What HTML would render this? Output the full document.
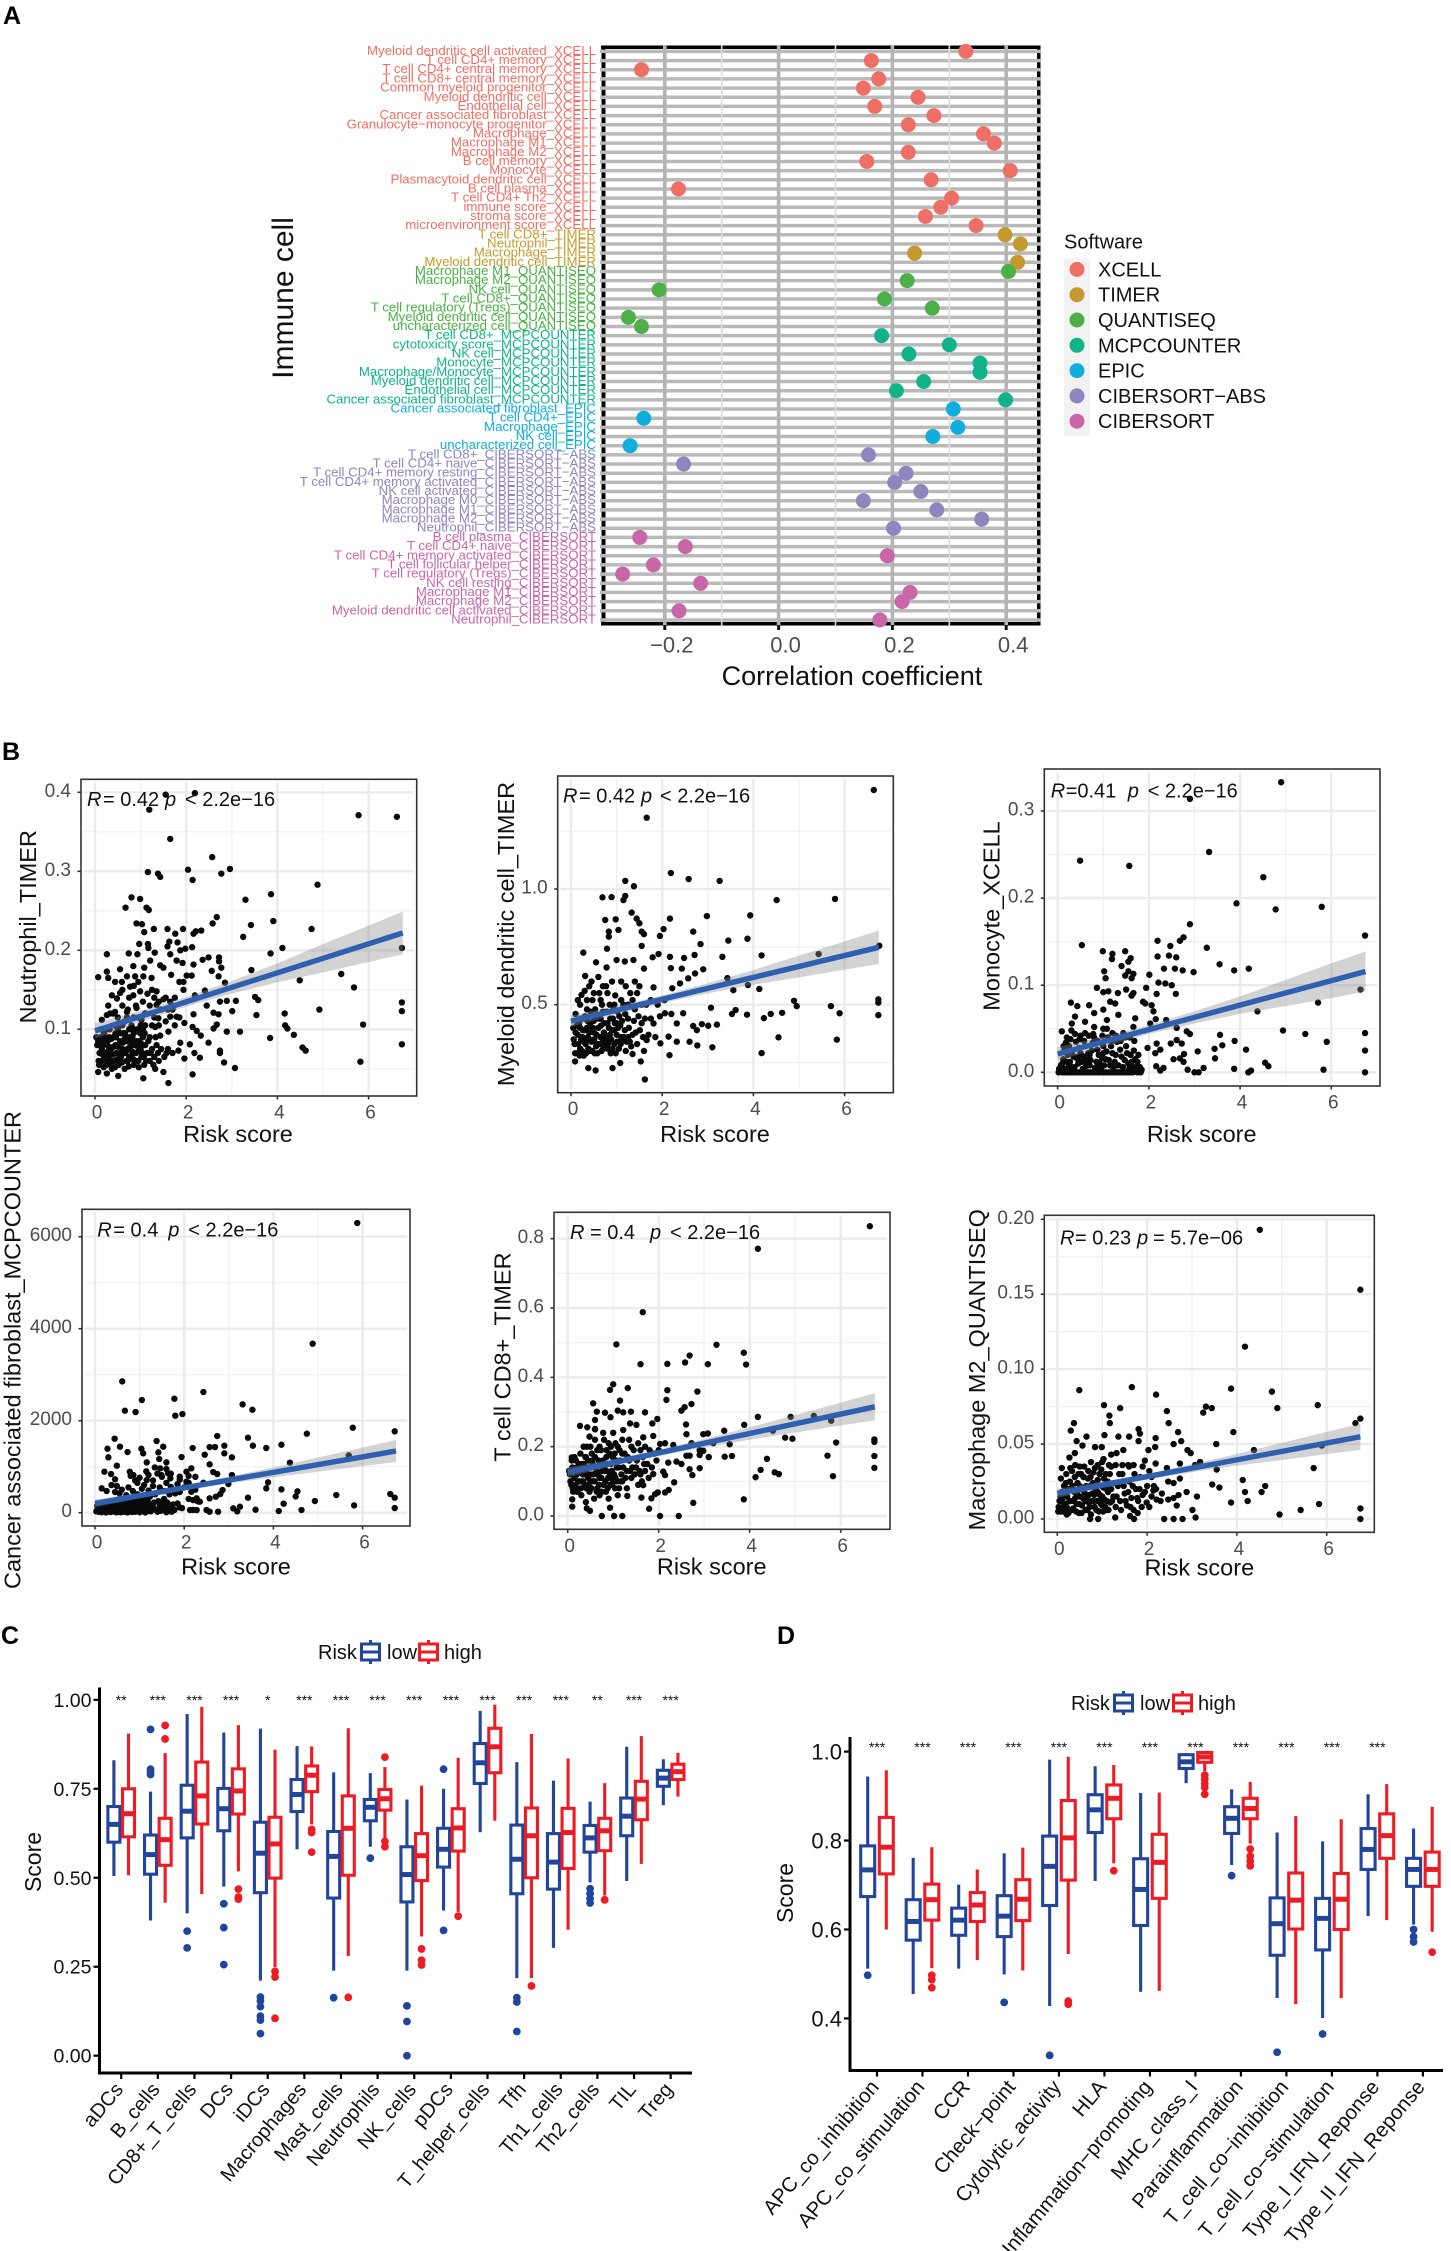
<!DOCTYPE html>
<html lang="en">
<head>
<meta charset="utf-8">
<title>Immune correlation figure</title>
<style>
html,body{margin:0;padding:0;background:#fff}
svg{display:block;font-family:"Liberation Sans",Arial,sans-serif}
</style>
</head>
<body>
<svg id="figure" xmlns="http://www.w3.org/2000/svg" width="1451" height="2251" viewBox="0 0 1451 2251">
<rect x="0" y="0" width="1451" height="2251" fill="#fff"/>
<text x="3" y="24" font-size="25" font-weight="bold">A</text>
<text x="2" y="760" font-size="25" font-weight="bold">B</text>
<text x="1" y="1644" font-size="25" font-weight="bold">C</text>
<text x="777" y="1644" font-size="25" font-weight="bold">D</text>
<g id="panelA"></g>
<g id="panelB"></g>
<g id="panelC"></g>
<g id="panelD"></g>
</svg>
<script>
/* ---------- Panel A data ---------- */
const softwareNames = ["XCELL","TIMER","QUANTISEQ","MCPCOUNTER","EPIC","CIBERSORT-ABS","CIBERSORT"];
const softwareColors = ["#EE6F66","#C49A2E","#4CAF47","#12B388","#10AEDD","#9085BE","#C966A8"];
const cellLabels = [
"Myeloid dendritic cell activated_XCELL","T cell CD4+ memory_XCELL","T cell CD4+ central memory_XCELL","T cell CD8+ central memory_XCELL","Common myeloid progenitor_XCELL","Myeloid dendritic cell_XCELL","Endothelial cell_XCELL","Cancer associated fibroblast_XCELL","Granulocyte−monocyte progenitor_XCELL","Macrophage_XCELL","Macrophage M1_XCELL","Macrophage M2_XCELL","B cell memory_XCELL","Monocyte_XCELL","Plasmacytoid dendritic cell_XCELL","B cell plasma_XCELL","T cell CD4+ Th2_XCELL","immune score_XCELL","stroma score_XCELL","microenvironment score_XCELL",
"T cell CD8+_TIMER","Neutrophil_TIMER","Macrophage_TIMER","Myeloid dendritic cell_TIMER",
"Macrophage M1_QUANTISEQ","Macrophage M2_QUANTISEQ","NK cell_QUANTISEQ","T cell CD8+_QUANTISEQ","T cell regulatory (Tregs)_QUANTISEQ","Myeloid dendritic cell_QUANTISEQ","uncharacterized cell_QUANTISEQ",
"T cell CD8+_MCPCOUNTER","cytotoxicity score_MCPCOUNTER","NK cell_MCPCOUNTER","Monocyte_MCPCOUNTER","Macrophage/Monocyte_MCPCOUNTER","Myeloid dendritic cell_MCPCOUNTER","Endothelial cell_MCPCOUNTER","Cancer associated fibroblast_MCPCOUNTER",
"Cancer associated fibroblast_EPIC","T cell CD4+_EPIC","Macrophage_EPIC","NK cell_EPIC","uncharacterized cell_EPIC",
"T cell CD8+_CIBERSORT−ABS","T cell CD4+ naive_CIBERSORT−ABS","T cell CD4+ memory resting_CIBERSORT−ABS","T cell CD4+ memory activated_CIBERSORT−ABS","NK cell activated_CIBERSORT−ABS","Macrophage M0_CIBERSORT−ABS","Macrophage M1_CIBERSORT−ABS","Macrophage M2_CIBERSORT−ABS","Neutrophil_CIBERSORT−ABS",
"B cell plasma_CIBERSORT","T cell CD4+ naive_CIBERSORT","T cell CD4+ memory activated_CIBERSORT","T cell follicular helper_CIBERSORT","T cell regulatory (Tregs)_CIBERSORT","NK cell resting_CIBERSORT","Macrophage M1_CIBERSORT","Macrophage M2_CIBERSORT","Myeloid dendritic cell activated_CIBERSORT","Neutrophil_CIBERSORT"];
const cellSoftwareCounts = [20,4,7,8,5,9,10];
const correlationValues = [.329,.163,-.241,.176,.149,.245,.169,.273,.228,.360,.379,.228,.155,.407,.268,-.176,.304,.285,.258,.347,
.398,.425,.239,.420,
.404,.226,-.210,.186,.270,-.264,-.241,
.181,.300,.229,.354,.354,.255,.207,.399,
.307,-.237,.315,.271,-.261,
.158,-.167,.224,.204,.250,.149,.278,.357,.202,
-.244,-.164,.191,-.220,-.274,-.137,.231,.217,-.175,.178];
const correlationTicks = [-0.2,0,0.2,0.4];
const correlationTickLabels = ["−0.2","0.0","0.2","0.4"];
const correlationMinorTicks = [-0.1,0.1,0.3];

/* ---------- Panel B data ---------- */
const bandRisk = [0,1,2,3,4,5,6,6.75];

const neutrophilTicks = [.1,.2,.3,.4];
const neutrophilFit = [.098,.222];
const neutrophilBand = [.01,.007,.006,.008,.012,.018,.023,.027];
const neutrophilSparse = [[2.19,.399],[1.55,.397],[1.19,.378],[5.78,.371],[6.62,.369],[1.65,.341],[2.57,.318],[2.96,.303],[2.04,.302],[1.16,.299],[2.77,.297],[1.38,.297],[1.43,.293],[2.14,.289],[4.88,.283],[3.86,.271],[.8,.267],[.99,.265],[3.3,.264],[.67,.254],[1.13,.254],[1.18,.251],[2.67,.242],[3.91,.237],[3.42,.232],[.91,.234],[1.03,.233],[2.58,.234],[4.75,.227],[1.29,.227],[1.59,.227],[1.93,.227],[2.33,.225],[2.21,.224],[1.08,.223],[1.76,.221],[2.16,.221],[3.25,.217],[1.81,.21],[1.63,.211],[.97,.208],[1.16,.208],[1.59,.205],[6.73,.203],[4.11,.203],[2.13,.204],[1.98,.202],[1.87,.2],[1.17,.203],[3.85,.196],[.26,.195],[.74,.196],[.93,.195],[1.31,.197],[1.65,.195],[1.21,.187],[1.79,.187],[1.92,.184],[2.36,.188],[2.49,.191],[2.72,.191],[2.72,.186],[2.77,.178],[2.16,.182],[3.43,.175],[2.56,.174],[1.08,.178],[1.43,.181],[1.5,.178],[.84,.18],[.55,.176],[.26,.173],[.07,.166],[.29,.165],[2.71,.167],[2.01,.168],[2.12,.168],[1.67,.169],[5.4,.17],[4.49,.162],[5.68,.153],[2.85,.159],[1.85,.16],[1.94,.16],[1.24,.165],[.44,.16],[.59,.16],[.7,.167],[.88,.167],[1.06,.167],[.77,.154],[.95,.16],[1.94,.15],[2.41,.149],[1.35,.148],[.99,.148],[.84,.143],[.37,.143],[.55,.146],[.48,.139],[3.51,.141],[3.58,.137],[6.73,.134],[3.09,.136],[2.19,.143],[2.89,.136],[2.74,.135],[1.5,.138],[1.35,.131],[.29,.13],[.44,.122],[.7,.122],[.91,.127],[2.45,.13],[4.92,.125],[6.73,.123],[3.01,.123],[2.16,.119],[2.6,.121],[2.71,.119],[3.54,.118],[4.16,.12],[.26,.118],[1.65,.116],[1.79,.116],[1.39,.114],[1.02,.112],[.15,.112],[5.88,.106],[2.67,.106],[4.17,.105],[4.22,.101],[1.96,.108],[2.14,.103],[1.32,.103],[2.6,.101],[2.89,.097],[3.18,.097],[1.61,.097],[2.23,.098],[4.36,.093],[2.32,.092],[1.43,.092],[3.84,.089],[2.49,.083],[1.87,.083],[2.08,.081],[6.73,.081],[4.55,.077],[4.62,.073],[2.74,.073],[2.74,.07],[1.83,.073],[1.57,.07],[2.18,.07],[2.3,.064],[1.96,.063],[2.83,.058],[5.82,.059],[3.07,.051],[2.14,.043],[1.5,.046],[1.61,.032],[1.32,.05],[1.06,.038],[.51,.041],[.07,.046],[.26,.044]];
const neutrophilDense = [[.05,.08],[.1,.07],[.12,.09],[.15,.06],[.18,.08],[.2,.095],[.22,.07],[.25,.055],[.28,.085],[.3,.065],[.32,.1],[.35,.075],[.37,.05],[.4,.09],[.42,.06],[.45,.08],[.47,.07],[.5,.1],[.52,.055],[.55,.085],[.57,.065],[.6,.075],[.62,.095],[.65,.05],[.67,.07],[.7,.085],[.72,.06],[.75,.1],[.77,.078],[.8,.065],[.82,.09],[.85,.055],[.87,.08],[.9,.07],[.92,.1],[.95,.06],[.97,.085],[1,.075],[1.02,.065],[1.05,.09],[1.08,.055],[1.1,.08],[1.15,.07],[1.2,.06],[1.25,.075],[1.3,.065],[1.35,.08],[1.4,.06],[.13,.1],[.25,.1],[.43,.105],[.6,.105],[.8,.105],[.95,.115],[.33,.12],[.5,.115],[.7,.115],[.15,.075],[.35,.06],[.55,.07],[.75,.065],[.95,.072],[.65,.088],[.45,.095],[.2,.065],[.08,.06],[.3,.078],[.85,.095],[1.05,.1],[1.2,.09],[1.1,.12],[1.2,.13],[1.3,.115],[1.45,.125],[1.55,.11],[1.7,.125],[1.85,.115],[1,.105],[1.25,.105],[1.4,.105],[1.6,.125],[1.75,.105]];
const neutrophilExtra = [[.03,.09],[.07,.085],[.09,.055],[.14,.085],[.17,.068],[.19,.052],[.23,.088],[.27,.062],[.29,.072],[.31,.09],[.34,.056],[.36,.088],[.39,.068],[.41,.078],[.44,.052],[.46,.09],[.49,.062],[.51,.078],[.54,.06],[.56,.095],[.59,.058],[.61,.083],[.63,.07],[.66,.095],[.69,.06],[.71,.075],[.74,.053],[.76,.09],[.79,.085],[.81,.072],[.84,.062],[.86,.1],[.89,.06],[.91,.085],[.94,.078],[.96,.052],[.99,.095],[1.01,.082],[1.04,.07],[1.07,.065],[1.09,.095],[1.12,.06],[1.17,.085],[1.22,.07],[1.28,.055],[1.33,.09],[1.38,.07],[1.45,.075],[1.52,.065],[1.6,.075],[1.7,.07],[.55,.105],[.65,.11],[.72,.125],[.85,.115],[.4,.12],[.6,.13],[.9,.13],[1.1,.105],[1.15,.145],[1.25,.15],[1.4,.135],[1.55,.14],[1.65,.135],[1.75,.14],[1.3,.14],[1.05,.135],[.75,.14],[.6,.15],[.85,.155]];

const dendriticTicks = [.5,1];
const dendriticFit = [.429,.748];
const dendriticBand = [.025,.018,.016,.022,.032,.047,.061,.072];
const dendriticSparse = [[6.64,1.428],[1.66,1.308],[2.19,1.069],[2.58,1.043],[3.26,1.035],[1.19,1.035],[1.38,1.012],[4.51,.952],[5.79,.957],[.69,.964],[.89,.965],[1.19,.97],[1.15,.952],[1.33,.898],[2.98,.883],[3.93,.886],[2.17,.872],[1.44,.872],[.98,.869],[.75,.866],[1.5,.852],[2.03,.827],[1.04,.823],[.83,.816],[2.68,.816],[1.55,.816],[1.6,.805],[1.95,.797],[.83,.794],[3.87,.785],[3.45,.777],[1.55,.754],[2.84,.762],[6.76,.755],[.79,.742],[.27,.725],[5.43,.719],[4.18,.713],[2.71,.715],[3.32,.707],[2.17,.707],[2.48,.702],[1.92,.719],[1.79,.705],[1,.693],[1.18,.687],[1.37,.693],[.55,.683],[1.6,.656],[2.19,.658],[2.43,.656],[2.9,.653],[.78,.661],[2.72,.635],[2.57,.614],[3.43,.615],[2.39,.592],[.31,.624],[3.88,.585],[3.56,.563],[4.13,.568],[2.22,.571],[1.81,.575],[.23,.542],[4.89,.517],[6.74,.523],[6.74,.509],[4.95,.494],[5.7,.494],[3.07,.487],[4.63,.465],[4.38,.46],[4.23,.442],[3.61,.477],[3.53,.46],[3.86,.457],[5.89,.463],[6.74,.455],[3.2,.414],[3.01,.409],[2.68,.408],[2.87,.416],[2.76,.39],[4.55,.359],[5.83,.349],[3.1,.316],[2.6,.34],[2.77,.324],[2.32,.34],[2.14,.362],[1.96,.333],[4.18,.291],[2.16,.282],[1.53,.255],[1.08,.248],[.91,.226],[.54,.216],[.38,.226],[1.62,.177],[.09,.255],[1.35,.287],[2.32,.419],[2.46,.463],[2.06,.463],[1.81,.419],[1.51,.39],[1.66,.347],[1.29,.34]];
const dendriticDense = [[.05,.4],[.08,.33],[.1,.46],[.12,.29],[.15,.37],[.18,.42],[.2,.31],[.22,.35],[.25,.44],[.28,.28],[.3,.39],[.32,.33],[.35,.48],[.37,.36],[.4,.3],[.42,.42],[.45,.34],[.47,.52],[.5,.38],[.52,.29],[.55,.45],[.57,.33],[.6,.4],[.62,.55],[.65,.36],[.67,.3],[.7,.47],[.72,.38],[.75,.33],[.77,.58],[.8,.42],[.82,.35],[.85,.5],[.87,.29],[.9,.39],[.92,.44],[.95,.33],[.97,.54],[1,.37],[1.02,.47],[1.05,.31],[1.08,.41],[1.1,.6],[1.13,.35],[1.15,.5],[1.18,.39],[1.2,.3],[1.25,.44],[1.3,.55],[1.35,.37],[1.4,.48],[1.45,.33],[1.5,.58],[1.55,.42],[1.6,.3],[1.65,.5],[1.7,.37],[1.75,.44],[1.85,.36],[1.95,.45],[2.05,.52],[2.2,.46],[.15,.52],[.3,.56],[.45,.6],[.6,.62],[.25,.36],[.4,.38],[.55,.32],[.7,.34],[.85,.37],[1,.42],[.5,.43],[.65,.44],[.8,.31],[.95,.39],[1.1,.36],[.35,.4],[.2,.4],[.1,.38],[1.25,.36]];
const dendriticExtra = [[.06,.35],[.09,.29],[.13,.41],[.16,.33],[.19,.28],[.21,.44],[.24,.3],[.26,.39],[.29,.34],[.31,.45],[.33,.29],[.36,.43],[.38,.31],[.41,.35],[.43,.47],[.46,.3],[.48,.4],[.51,.35],[.53,.48],[.56,.37],[.58,.29],[.61,.44],[.63,.33],[.66,.41],[.68,.5],[.71,.31],[.73,.42],[.76,.36],[.78,.47],[.81,.33],[.83,.4],[.86,.44],[.88,.35],[.91,.31],[.93,.48],[.96,.42],[.98,.29],[1.01,.34],[1.03,.4],[1.06,.45],[1.09,.33],[1.12,.43],[1.16,.36],[1.19,.46],[1.22,.34],[1.27,.4],[1.32,.32],[1.38,.43],[1.42,.38],[1.48,.45],[1.58,.36],[1.62,.44],[.2,.5],[.35,.52],[.5,.55],[.65,.52],[.8,.55],[.95,.5],[1.1,.52],[1.25,.5],[1.35,.52],[1.45,.55],[.4,.58],[.7,.58],[.9,.6],[1.2,.58],[1.4,.6],[1.55,.5],[1.75,.52],[1.9,.5]];

const monocyteTicks = [0,.1,.2,.3];
const monocyteFit = [.021,.1157];
const monocyteBand = [.008,.006,.005,.007,.01,.015,.02,.023];
const monocyteSparse = [[4.9,.333],[2.9,.314],[3.32,.253],[.49,.243],[1.57,.237],[4.51,.224],[3.92,.194],[5.79,.19],[4.78,.187],[2.9,.17],[6.74,.157],[2.76,.155],[2.68,.151],[2.19,.151],[2.47,.145],[.53,.146],[3.27,.143],[.99,.139],[1.48,.139],[1.2,.136],[1.19,.13],[2.44,.134],[2.19,.133],[2.6,.132],[1.6,.131],[1.55,.127],[3.55,.124],[1.4,.122],[2.33,.119],[2.57,.119],[2.74,.117],[2.98,.115],[3.87,.117],[4.19,.119],[1.02,.116],[1.55,.116],[1.66,.113],[1.48,.111],[1.05,.108],[1.62,.108],[2.01,.112],[2.21,.103],[2.36,.102],[2.5,.1],[.86,.097],[1.94,.097],[6.64,.095],[1.5,.095],[1,.092],[1.11,.093],[1.32,.091],[1.66,.091],[1.62,.088],[2.17,.09],[2.59,.09],[.29,.08],[1.87,.081],[1.92,.079],[2.06,.077],[.69,.077],[.43,.076],[5.71,.08],[1.15,.081],[1.26,.079],[1,.072],[2.1,.07],[4.38,.07],[.8,.068],[1.33,.066],[.38,.064],[.6,.058],[1.7,.062],[2.15,.061],[2.38,.06],[1.08,.06],[.31,.056],[2.03,.056],[2.61,.051],[2.83,.047],[2.9,.044],[4.94,.048],[5.43,.044],[6.74,.045],[3.56,.043],[.09,.047],[1.66,.052],[1.44,.045],[3.88,.036],[5.9,.035],[2.61,.037],[3.61,.031],[2.48,.033],[2.72,.033],[2.17,.033],[1.97,.028],[3.44,.027],[4.13,.026],[6.74,.025],[3.07,.024],[2.25,.026],[2.14,.022],[2.77,.021],[3.45,.016],[2.54,.015],[2.68,.016],[2.76,.012],[4.55,.011],[4.62,.007],[2.16,.007],[2.32,.005],[2.85,.003],[3.2,.005],[3.87,.004],[2.25,.002],[5.83,.003],[4.24,.002],[4.18,0],[3,0],[3.09,0],[6.74,0]];
const monocyteDense = [[.02,0],[.1,0],[.15,0],[.2,0],[.25,0],[.3,0],[.35,0],[.4,0],[.45,0],[.5,0],[.55,0],[.6,0],[.65,0],[.7,0],[.75,0],[.8,0],[.85,0],[.9,0],[.95,0],[1,0],[1.05,0],[1.1,0],[1.15,0],[1.2,0],[1.25,0],[1.45,0],[1.5,0],[1.55,0],[1.6,0],[1.65,0],[1.75,0],[1.82,0],[.1,.01],[.15,.025],[.2,.012],[.25,.03],[.3,.006],[.35,.018],[.4,.035],[.45,.01],[.5,.022],[.55,.004],[.6,.03],[.65,.014],[.7,.008],[.75,.025],[.8,.04],[.85,.012],[.9,.02],[.95,.005],[1,.03],[1.05,.015],[1.1,.04],[1.15,.008],[1.2,.022],[1.25,.012],[1.3,.035],[1.4,.018],[1.5,.03],[1.55,.01],[1.6,.02],[1.65,.006],[1.7,.015],[1.75,.012],[1.8,.006],[.2,.04],[.3,.048],[.5,.042],[.6,.045],[.8,.052],[1,.05],[1.2,.045]];
const monocyteExtra = [[.03,.004],[.07,.008],[.12,.015],[.17,.004],[.22,.02],[.27,.012],[.32,.024],[.37,.006],[.42,.016],[.47,.028],[.52,.012],[.57,.018],[.62,.007],[.67,.022],[.72,.014],[.77,.034],[.82,.005],[.87,.026],[.92,.01],[.97,.016],[1.02,.008],[1.07,.024],[1.12,.014],[1.17,.03],[1.22,.005],[1.27,.02],[1.33,.008],[1.37,.026],[1.43,.006],[1.47,.014],[1.52,.022],[1.57,.004],[1.62,.012],[1.67,.025],[1.72,.006],[1.77,.02],[1.84,.003],[.13,.03],[.18,.034],[.28,.038],[.38,.044],[.48,.038],[.58,.036],[.68,.042],[.78,.044],[.88,.036],[.98,.042],[1.08,.05],[1.18,.036],[1.28,.042],[1.38,.036],[1.48,.04],[1.58,.04],[1.68,.036],[.3,0],[.6,.012],[.9,.008],[1.3,0],[1.35,0],[1.4,0],[.45,.018],[.7,.02],[1,.022],[.25,.008]];

const fibroblastTicks = [0,2000,4000,6000];
const fibroblastFit = [203,1341];
const fibroblastBand = [84,60,53,72,108,155,203,239];
const fibroblastSparse = [[5.88,6297],[4.88,3674],[.61,2855],[2.43,2623],[1.05,2449],[1.78,2478],[3.31,2355],[3.53,2239],[.67,2217],[.91,2188],[1.96,2145],[1.8,2109],[5.78,1848],[6.72,1768],[4.75,1717],[.44,1609],[3.43,1630],[2.74,1667],[1.38,1558],[4.18,1478],[3.54,1456],[3.84,1406],[2.9,1456],[2.57,1427],[2.69,1427],[2.19,1406],[1.53,1435],[1.04,1391],[.56,1435],[.28,1391],[.73,1319],[1.42,1312],[1.08,1290],[2.9,1290],[2.46,1261],[5.69,1246],[3.07,1203],[1.94,1210],[.3,1203],[1.44,1167],[1.6,1094],[1.16,1094],[4.37,1087],[2.57,1051],[.49,1022],[1.34,985],[2.16,964],[1.46,964],[.21,891],[.78,891],[2.05,891],[2.65,884],[2.74,840],[1.64,855],[.36,840],[3.07,819],[1.49,819],[.86,819],[1.9,783],[.45,725],[1.69,746],[1.16,710],[3.88,659],[3.84,529],[2.99,623],[2.43,652],[.37,601],[.49,580],[2.05,674],[4.18,507],[4.54,464],[2.86,493],[2.81,406],[2.16,456],[.15,529],[.26,471],[.45,449],[5.41,384],[6.62,406],[4.5,355],[6.72,326],[3.43,326],[2.71,348],[2.57,312],[2.28,312],[4.93,254],[2.2,275],[4.23,196],[2.35,239],[3.25,130],[3.1,94],[5.81,159],[6.72,101],[3.6,65],[4.63,58],[4.12,36],[3.19,29],[2.76,22],[2.5,58],[2.57,22],[2.13,58],[2.28,58],[1.9,116],[1.72,22]];
const fibroblastDense = [[.05,150],[.08,20],[.12,60],[.15,10],[.18,120],[.2,40],[.22,200],[.25,5],[.28,90],[.3,30],[.33,160],[.35,15],[.38,60],[.4,250],[.43,25],[.45,100],[.48,8],[.5,180],[.53,40],[.55,300],[.58,10],[.6,70],[.63,140],[.65,20],[.68,50],[.7,220],[.73,5],[.75,100],[.78,35],[.8,170],[.83,15],[.85,60],[.88,280],[.9,20],[.93,120],[.95,45],[.98,200],[1,10],[1.03,80],[1.05,350],[1.08,30],[1.1,150],[1.13,5],[1.15,60],[1.18,250],[1.25,30],[1.3,120],[1.35,400],[1.4,20],[1.45,150],[1.5,60],[1.55,300],[1.6,10],[1.65,90],[1.7,30],[1.75,180],[1.8,420],[1.45,550],[1.3,700],[1.1,600],[.95,650],[.75,550],[.9,700],[1.6,650],[1.9,450],[2.1,300],[2.3,250],[1.95,100],[2.2,60],[1.2,820],[1.5,780],[1.7,850],[2.1,800],[2.25,780]];
const fibroblastExtra = [[.03,30],[.06,80],[.1,110],[.13,30],[.17,70],[.2,100],[.24,130],[.27,50],[.31,100],[.34,70],[.37,200],[.41,40],[.44,160],[.47,70],[.51,110],[.54,20],[.57,160],[.6,30],[.62,240],[.66,100],[.69,150],[.72,60],[.74,30],[.77,210],[.79,90],[.82,130],[.84,250],[.87,70],[.89,170],[.92,40],[.94,230],[.97,90],[.99,300],[1.02,130],[1.06,200],[1.09,70],[1.12,280],[1.14,120],[1.17,40],[1.2,170],[1.23,350],[1.27,90],[1.32,220],[1.37,60],[1.42,250],[1.47,40],[1.52,200],[1.57,100],[1.62,220],[1.67,400],[1.72,120],[1.78,60],[1.85,200],[1.2,480],[1.05,520],[.85,470],[.7,380],[.55,420],[1.3,580],[1.55,470],[1.7,560],[1.85,620],[2,550],[2.1,650],[2.25,500],[1,760],[.8,800],[1.15,900],[1.4,850],[1.6,950],[1.9,720],[.6,500],[.95,400]];

const cd8Ticks = [0,.2,.4,.6,.8];
const cd8Fit = [.126,.315];
const cd8Band = [.014,.01,.009,.012,.018,.025,.033,.039];
const cd8Sparse = [[6.64,.836],[4.18,.771],[1.65,.588],[1.07,.495],[3.27,.494],[3.87,.471],[2.68,.463],[2.58,.443],[1.6,.438],[2.19,.439],[3.08,.438],[3.92,.437],[1,.38],[.93,.364],[1.32,.369],[2.19,.363],[2.85,.359],[1.15,.333],[2.17,.335],[2.72,.323],[.56,.325],[2.57,.314],[2.5,.304],[.64,.301],[1.7,.299],[.82,.298],[1.1,.304],[1.22,.299],[1.39,.301],[.6,.277],[1.97,.28],[4.18,.286],[4.9,.286],[.94,.285],[5.41,.289],[5.79,.275],[1.86,.267],[.27,.26],[2.6,.264],[3.88,.263],[1.37,.267],[1.51,.263],[.43,.256],[.6,.251],[1.22,.248],[3.44,.246],[4.51,.246],[3.08,.238],[2.98,.236],[.48,.229],[1.88,.231],[2.61,.236],[1.66,.227],[4.78,.226],[4.94,.223],[3.2,.21],[2.72,.21],[3.56,.207],[5.9,.212],[6.74,.221],[6.74,.214],[2.32,.205],[2.14,.21],[2.03,.208],[2.98,.188],[2.9,.176],[3.45,.171],[3.61,.173],[5.71,.174],[6.74,.173],[2.61,.174],[2.68,.174],[3.1,.17],[2.9,.19],[4.38,.165],[2.21,.154],[2.5,.15],[2.39,.157],[6.74,.139],[2.9,.138],[4.24,.133],[2.68,.135],[4.55,.126],[4.64,.121],[2.1,.128],[2.74,.118],[1.88,.121],[4.13,.112],[5.83,.115],[2.14,.118],[2.34,.097],[1.66,.089],[2.22,.075],[2.14,.068],[1.98,.068],[1.92,.063],[1.31,.058],[1.62,.053],[1.84,.051],[2.76,.038],[3.87,.048],[1.79,.021],[.93,.024],[.42,.022],[.49,.015],[.75,0],[1.02,0],[1.2,0],[2.03,0],[2.44,0],[.1,.048],[.1,.027],[.09,.169]];
const cd8Dense = [[.05,.12],[.08,.09],[.1,.14],[.12,.07],[.15,.11],[.18,.16],[.2,.08],[.22,.13],[.25,.1],[.28,.18],[.3,.06],[.33,.12],[.35,.15],[.38,.09],[.4,.04],[.42,.2],[.45,.11],[.48,.07],[.5,.14],[.53,.18],[.55,.1],[.58,.05],[.6,.22],[.63,.13],[.65,.08],[.68,.16],[.7,.11],[.73,.19],[.75,.07],[.78,.24],[.8,.14],[.83,.1],[.85,.17],[.88,.08],[.9,.21],[.93,.12],[.95,.15],[.98,.09],[1,.24],[1.03,.18],[1.05,.11],[1.08,.14],[1.1,.2],[1.13,.08],[1.15,.16],[1.18,.12],[1.2,.1],[1.25,.18],[1.3,.13],[1.35,.16],[1.4,.11],[1.45,.19],[1.5,.14],[1.55,.21],[1.6,.12],[1.65,.17],[1.7,.13],[1.75,.15],[1.8,.19],[1.85,.14],[1.55,.09],[1.3,.08],[1.1,.06],[.9,.05],[.7,.06],[.6,.17],[.5,.1],[.4,.13],[.3,.1],[.2,.12],[.75,.13],[.95,.11],[.85,.13],[.65,.12],[.55,.15],[1,.1],[.45,.16],[.35,.2],[.25,.15],[.15,.17],[.6,.25],[.8,.22],[1.2,.22]];
const cd8Extra = [[.03,.13],[.06,.1],[.09,.16],[.11,.08],[.14,.13],[.17,.09],[.19,.14],[.21,.07],[.23,.1],[.26,.13],[.29,.08],[.32,.15],[.34,.1],[.37,.12],[.39,.17],[.41,.08],[.44,.14],[.46,.09],[.49,.12],[.52,.08],[.54,.16],[.56,.12],[.59,.1],[.62,.14],[.64,.07],[.67,.12],[.69,.09],[.72,.15],[.74,.11],[.77,.16],[.79,.09],[.82,.13],[.84,.07],[.87,.15],[.89,.11],[.92,.18],[.94,.09],[.97,.13],[.99,.17],[1.02,.12],[1.04,.08],[1.07,.16],[1.09,.1],[1.12,.14],[1.14,.19],[1.17,.1],[1.22,.14],[1.27,.11],[1.32,.17],[1.37,.13],[1.42,.14],[1.47,.12],[1.52,.16],[1.58,.13],[1.63,.1],[1.68,.15],[1.78,.11],[.7,.2],[.85,.19],[.95,.2],[1.05,.21],[1.2,.18],[1.4,.2],[.5,.2],[.65,.19],[.3,.14],[.4,.17],[1.35,.22],[1.6,.19],[1.7,.2],[1.9,.18],[2,.19],[1.95,.16]];

const macrophageTicks = [0,.05,.1,.15,.2];
const macrophageFit = [.0171,.0549];
const macrophageBand = [.003,.0022,.0019,.0026,.0039,.0057,.0074,.0087];
const macrophageSparse = [[4.51,.193],[6.75,.153],[4.18,.115],[1.66,.088],[3.87,.087],[4.78,.085],[.49,.086],[2.2,.083],[1.04,.076],[5.8,.076],[1.4,.074],[3.31,.075],[3.44,.074],[4.9,.074],[2.44,.072],[3.25,.071],[1.16,.069],[6.75,.067],[1.17,.064],[.37,.064],[2.48,.064],[6.64,.064],[1.81,.06],[.3,.059],[1.84,.057],[2.69,.058],[3.92,.058],[1.81,.052],[2.76,.052],[2.19,.054],[.65,.055],[1.05,.056],[1.36,.055],[1.6,.055],[.43,.052],[2.59,.05],[3.54,.05],[.56,.049],[5.89,.049],[2.18,.048],[.84,.048],[.99,.048],[2.03,.046],[2.9,.046],[4.38,.046],[1.47,.046],[.39,.044],[2.97,.044],[1.32,.044],[1.2,.043],[.27,.041],[1.03,.04],[1.95,.039],[3.18,.038],[2.19,.037],[2.73,.037],[1.58,.036],[3.07,.036],[2.44,.034],[5.71,.034],[3.55,.033],[.1,.034],[.58,.028],[.08,.027],[2.73,.027],[4.13,.026],[2.47,.025],[2.59,.024],[4.63,.022],[3.45,.023],[3.61,.021],[4.18,.018],[4.55,.018],[2.88,.018],[2.14,.019],[2.33,.017],[3.11,.015],[2.7,.016],[2.59,.014],[2.47,.013],[4.24,.012],[3.87,.011],[5.83,.01],[2.21,.013],[1.99,.011],[2.66,.009],[5.42,.006],[6.75,.007],[3.01,.006],[4.95,.003],[3.08,.001],[2.38,0],[2.59,0],[2.79,0],[6.75,0],[1.29,.001],[1.71,0],[1.62,.002],[.73,0],[.91,0],[1.79,.004],[.21,.003],[.02,.005]];
const macrophageDense = [[.05,.012],[.08,.005],[.1,.018],[.12,.008],[.15,.022],[.18,.01],[.2,.03],[.22,.015],[.25,.004],[.28,.025],[.3,.012],[.33,.032],[.35,.007],[.38,.018],[.4,.036],[.43,.01],[.45,.024],[.48,.004],[.5,.015],[.53,.03],[.55,.009],[.58,.02],[.6,.035],[.63,.006],[.65,.014],[.68,.027],[.7,.011],[.73,.022],[.75,.003],[.78,.017],[.8,.031],[.83,.008],[.85,.02],[.88,.012],[.9,.026],[.93,.005],[.95,.016],[.98,.033],[1,.009],[1.03,.021],[1.05,.013],[1.08,.03],[1.1,.006],[1.13,.018],[1.15,.024],[1.18,.011],[1.2,.035],[1.25,.015],[1.3,.008],[1.35,.022],[1.4,.012],[1.45,.03],[1.5,.017],[1.55,.009],[1.6,.025],[1.65,.014],[1.7,.006],[1.75,.02],[1.8,.012],[1.85,.028],[1.9,.016],[2,.022],[2.05,.008],[2.1,.028],[2.2,.02],[2.3,.012],[.6,.018],[.5,.022],[.4,.014],[.3,.02],[.7,.016],[.9,.018],[1,.015],[.8,.012],[1.1,.012],[1.2,.02]];
const macrophageExtra = [[.03,.008],[.07,.015],[.11,.012],[.14,.005],[.16,.015],[.19,.024],[.21,.008],[.24,.02],[.27,.012],[.29,.034],[.32,.006],[.34,.022],[.37,.012],[.39,.028],[.42,.005],[.44,.018],[.47,.03],[.49,.01],[.52,.02],[.54,.004],[.57,.014],[.59,.028],[.62,.012],[.64,.022],[.67,.006],[.69,.032],[.72,.008],[.74,.028],[.77,.012],[.79,.024],[.82,.016],[.84,.034],[.87,.006],[.89,.022],[.92,.012],[.94,.03],[.97,.01],[.99,.022],[1.02,.005],[1.04,.027],[1.07,.008],[1.09,.02],[1.12,.025],[1.14,.006],[1.17,.03],[1.22,.012],[1.27,.024],[1.32,.015],[1.38,.03],[1.42,.006],[1.48,.022],[1.52,.012],[1.58,.018],[1.63,.008],[1.68,.022],[1.72,.03],[1.78,.014],[1.83,.02],[1.88,.008],[1.95,.018],[2.1,.015],[2.15,.022],[.5,.035],[.75,.038],[.9,.036],[1,.038],[1.15,.036],[1.3,.036],[1.45,.036],[1.6,.035],[1.7,.036],[1.9,.035],[2.05,.032]];

/* ---------- Panel C data: [lower whisker, q1, median, q3, upper whisker] ---------- */
const immuneCategories = ["aDCs","B_cells","CD8+_T_cells","DCs","iDCs","Macrophages","Mast_cells","Neutrophils","NK_cells","pDCs","T_helper_cells","Tfh","Th1_cells","Th2_cells","TIL","Treg"];
const immuneStars = ["**","***","***","***","*","***","***","***","***","***","***","***","***","**","***","***"];
const immuneTicks = [0,.25,.5,.75,1];
const immuneLowStats = [[.505,.60,.65,.70,.83],[.38,.51,.565,.62,.742],[.40,.612,.687,.76,.96],[.475,.632,.694,.751,.908],[.211,.458,.569,.656,.919],[.58,.686,.734,.776,.87],[.239,.443,.56,.63,.796],[.587,.66,.698,.72,.794],[.239,.432,.509,.587,.72],[.408,.53,.58,.639,.75],[.628,.765,.823,.877,.969],[.218,.455,.552,.648,.825],[.303,.468,.544,.624,.773],[.487,.572,.612,.647,.714],[.491,.618,.673,.724,.868],[.704,.757,.78,.802,.833]];
const immuneHighStats = [[.507,.615,.68,.75,.905],[.43,.535,.607,.667,.85],[.454,.651,.73,.825,.98],[.518,.679,.744,.806,.929],[.249,.499,.595,.67,.86],[.65,.742,.788,.814,.869],[.28,.507,.639,.73,.92],[.61,.69,.722,.748,.811],[.335,.492,.562,.624,.759],[.404,.575,.64,.694,.837],[.66,.795,.868,.92,.986],[.218,.5,.618,.696,.904],[.354,.526,.627,.695,.835],[.45,.576,.632,.667,.766],[.539,.663,.721,.771,.898],[.728,.776,.798,.819,.851]];
const immuneLowOutliers = [[],[.917,.805,.797,.79],[.35,.303],[.427,.36,.256],[.165,.154,.138,.111,.1,.062],[],[.163],[.555],[.14,.096,0],[.805,.352],[],[.163,.151,.068],[],[.469,.455,.441,.429],[],[]];
const immuneHighOutliers = [[],[.928,.89],[],[.468,.446,.44],[.237,.221,.105],[.636,.627,.572],[.164],[.839,.602,.587],[.3,.268,.255],[.392],[],[.196],[],[.438],[],[]];

/* ---------- Panel D data ---------- */
const functionCategories = ["APC_co_inhibition","APC_co_stimulation","CCR","Check−point","Cytolytic_activity","HLA","Inflammation−promoting","MHC_class_I","Parainflammation","T_cell_co−inhibition","T_cell_co−stimulation","Type_I_IFN_Reponse","Type_II_IFN_Reponse"];
const functionStars = ["***","***","***","***","***","***","***","***","***","***","***","***",""];
const functionTicks = [.4,.6,.8,1];
const functionLowStats = [[.512,.674,.734,.788,.944],[.455,.576,.618,.667,.761],[.512,.587,.621,.648,.701],[.499,.584,.63,.676,.771],[.428,.654,.742,.81,.982],[.709,.818,.869,.903,.967],[.46,.609,.69,.759,.907],[.929,.962,.977,.993,.997],[.745,.816,.85,.876,.915],[.446,.542,.613,.671,.818],[.401,.554,.625,.67,.798],[.63,.735,.78,.827,.904],[.611,.697,.735,.76,.827]];
const functionHighStats = [[.6,.725,.785,.852,.958],[.513,.621,.667,.702,.785],[.531,.618,.655,.683,.735],[.508,.62,.668,.712,.784],[.545,.711,.806,.89,.988],[.749,.849,.895,.925,.97],[.462,.67,.751,.814,.908],[.956,.976,.988,.998,1],[.793,.849,.872,.895,.932],[.432,.601,.666,.727,.855],[.446,.6,.668,.726,.848],[.621,.76,.811,.86,.927],[.595,.697,.735,.774,.876]];
const functionLowOutliers = [[.497],[],[],[.436],[.317],[],[],[],[.721],[.324],[.365],[],[.6,.584,.572]];
const functionHighOutliers = [[],[.497,.487,.469],[],[],[.439,.432],[.732],[],[.947,.938,.928,.919,.904],[.781,.765,.754,.743],[],[],[],[.549]];

/* ---------- Drawing ---------- */
const NS = "http://www.w3.org/2000/svg";
function make(parent, tag, attrs, name, content) {
  const node = document.createElementNS(NS, tag);
  for (const key in attrs) node.setAttribute(key, attrs[key]);
  
  
  if (content !== undefined) node.textContent = content;
  parent.appendChild(node);
  return node;
}
function drawLine(parent, x1, y1, x2, y2, stroke, width, name) {
  return make(parent, 'line', {x1, y1, x2, y2, stroke, 'stroke-width': width}, name);
}
function drawText(parent, x, y, size, fill, anchor, str, name, extra) {
  const attrs = Object.assign({x, y, 'font-size': size, fill, 'text-anchor': anchor}, extra || {});
  return make(parent, 'text', attrs, name, str);
}

/* Panel A */
(function () {
  const g = document.getElementById('panelA');
  const xScale = v => 778.6 + v * 569;
  const rowY = i => 51.4 + i * 9.17;
  const left = 603, right = 1039;

  make(g, 'rect', {x: 601.5, y: 45.5, width: 4, height: 580, fill: '#000'}, 'left-border');
  make(g, 'rect', {x: 1037, y: 45.5, width: 3.5, height: 580, fill: '#000'}, 'right-border');
  make(g, 'rect', {x: 601, y: 45.5, width: 439.5, height: 3.5, fill: '#000'}, 'top-border');
  make(g, 'rect', {x: 601, y: 622, width: 439.5, height: 3.5, fill: '#000'}, 'bottom-border');

  cellLabels.forEach((_, i) => {
    drawLine(g, left - 3, rowY(i), right + 2, rowY(i), '#b9b9b9', 3.5, 'row-gridline');
  });
  correlationMinorTicks.forEach(v => {
    drawLine(g, xScale(v), 45, xScale(v), 626, '#dcdcdc', 1.6, 'minor-gridline');
  });
  correlationTicks.forEach((v, i) => {
    drawLine(g, xScale(v), 45, xScale(v), 626, '#b4b4b4', 3.6, 'major-gridline');
    drawLine(g, xScale(v), 625, xScale(v), 630, '#111', 3, 'x-tick');
    drawText(g, xScale(v) + 7, 652.5, 22, '#4d4d4d', 'middle', correlationTickLabels[i], 'x-tick-label');
  });

  let softwareIndex = 0, used = 0;
  cellLabels.forEach((label, i) => {
    if (used === cellSoftwareCounts[softwareIndex]) { softwareIndex++; used = 0; }
    used++;
    const color = softwareColors[softwareIndex];
    drawText(g, 596, rowY(i) + 3.5, 13.25, color, 'end', label, 'cell-label');
    make(g, 'circle', {cx: xScale(correlationValues[i]), cy: rowY(i), r: 7.5, fill: color}, 'correlation-point');
  });

  make(g, 'text', {transform: 'translate(293,298) rotate(-90)', 'font-size': 30, 'text-anchor': 'middle', fill: '#111'}, 'y-axis-title', 'Immune cell');
  drawText(g, 852, 685, 27, '#111', 'middle', 'Correlation coefficient', 'x-axis-title');

  drawText(g, 1064, 248.5, 20, '#111', 'start', 'Software', 'legend-title');
  make(g, 'rect', {x: 1064, y: 258.5, width: 26, height: 177.5, fill: '#f2f2f2'}, 'legend-key-background');
  softwareNames.forEach((name, i) => {
    const cy = 269.4 + i * 25.3;
    make(g, 'circle', {cx: 1077, cy, r: 7.5, fill: softwareColors[i]}, 'legend-marker');
    const shown = name.replace('-', '−');
    drawText(g, 1098, cy + 7, 20, '#111', 'start', shown, 'legend-entry');
  });
})();

/* Panel B */
const scatterPanels = [
  {title: 'Neutrophil_TIMER', slug: 'neutrophil', sparse: neutrophilSparse, dense: neutrophilDense, extra: neutrophilExtra, fit: neutrophilFit, band: neutrophilBand, ticks: neutrophilTicks, digits: 1,
   box: [81, 779.3, 416.7, 1096], x0: 95, xu: 45.6, yA: [.1, 1029.3], yB: [.4, 792.3], titleX: 28, titleY: 926.7, labelX: 238, labelY: 1134,
   annX: 87, annY: 799, parts: [['R', 0, 1], ['= 0.42', 16, 0], ['p', 78, 1], ['< 2.2e−16', 98, 0]]},
  {title: 'Myeloid dendritic cell_TIMER', slug: 'dendritic', sparse: dendriticSparse, dense: dendriticDense, extra: dendriticExtra, fit: dendriticFit, band: dendriticBand, ticks: dendriticTicks, digits: 1,
   box: [557.7, 776, 893.3, 1092.7], x0: 571, xu: 45.6, yA: [.5, 1004.7], yB: [1, 889], titleX: 506, titleY: 934, labelX: 715, labelY: 1134,
   annX: 563, annY: 795.7, parts: [['R', 0, 1], ['= 0.42', 16, 0], ['p', 78, 1], ['< 2.2e−16', 97, 0]]},
  {title: 'Monocyte_XCELL', slug: 'monocyte', sparse: monocyteSparse, dense: monocyteDense, extra: monocyteExtra, fit: monocyteFit, band: monocyteBand, ticks: monocyteTicks, digits: 1,
   box: [1044.3, 769, 1380, 1086], x0: 1057.7, xu: 45.6, yA: [0, 1072.3], yB: [.3, 811], titleX: 991.7, titleY: 916, labelX: 1201.7, labelY: 1134,
   annX: 1050.7, annY: 790.7, parts: [['R', 0, 1], ['=0.41', 15, 0], ['p', 77, 1], ['< 2.2e−16', 97, 0]]},
  {title: 'Cancer associated fibroblast_MCPCOUNTER', slug: 'fibroblast', sparse: fibroblastSparse, dense: fibroblastDense, extra: fibroblastExtra, fit: fibroblastFit, band: fibroblastBand, ticks: fibroblastTicks, digits: 0,
   box: [82, 1209.3, 410, 1526], x0: 95, xu: 44.6, yA: [0, 1512.7], yB: [6000, 1236.7], titleX: 12.7, titleY: 1350, labelX: 236, labelY: 1566.7,
   annX: 97.3, annY: 1229.3, parts: [['R', 0, 1], ['= 0.4', 16, 0], ['p', 71, 1], ['< 2.2e−16', 91, 0]]},
  {title: 'T cell CD8+_TIMER', slug: 'cd8', sparse: cd8Sparse, dense: cd8Dense, extra: cd8Extra, fit: cd8Fit, band: cd8Band, ticks: cd8Ticks, digits: 1,
   box: [554, 1212.3, 890, 1529.3], x0: 567.7, xu: 45.5, yA: [0, 1516], yB: [.8, 1238.7], titleX: 502.7, titleY: 1357, labelX: 711.7, labelY: 1566.7,
   annX: 570, annY: 1232, parts: [['R', 0, 1], ['=  0.4', 20, 0], ['p', 80, 1], ['< 2.2e−16', 100, 0]]},
  {title: 'Macrophage M2_QUANTISEQ', slug: 'macrophage', sparse: macrophageSparse, dense: macrophageDense, extra: macrophageExtra, fit: macrophageFit, band: macrophageBand, ticks: macrophageTicks, digits: 2,
   box: [1044.3, 1215.3, 1374.3, 1532.3], x0: 1057.3, xu: 44.9, yA: [0, 1519], yB: [.2, 1219.3], titleX: 977, titleY: 1369.7, labelX: 1199.3, labelY: 1567.3,
   annX: 1060, annY: 1237.3, parts: [['R', 0, 1], ['= 0.23', 15, 0], ['p', 77, 1], ['= 5.7e−06', 93, 0]]}
];
const riskTicks = [0, 2, 4, 6];
const riskMinorTicks = [1, 3, 5];

scatterPanels.forEach(cfg => {
  const root = document.getElementById('panelB');
  const g = make(root, 'g', {}, 'scatter-' + cfg.slug);
  const [l, t, r, b] = cfg.box;
  const xs = v => cfg.x0 + v * cfg.xu;
  const yu = (cfg.yB[1] - cfg.yA[1]) / (cfg.yB[0] - cfg.yA[0]);
  const ys = v => cfg.yA[1] + (v - cfg.yA[0]) * yu;

  make(g, 'rect', {x: l, y: t, width: r - l, height: b - t, fill: '#fff'}, 'plot-background');

  const step = cfg.ticks[1] - cfg.ticks[0];
  const minors = cfg.ticks.map(v => v - step / 2).concat([cfg.ticks[cfg.ticks.length - 1] + step / 2]);
  minors.forEach(v => {
    const y = ys(v);
    if (y > t + 2 && y < b - 2) drawLine(g, l + 3, y, r - 3, y, '#efefef', 1.2, 'minor-gridline-y');
  });
  riskMinorTicks.forEach(v => drawLine(g, xs(v), t + 3, xs(v), b - 3, '#efefef', 1.2, 'minor-gridline-x'));
  cfg.ticks.forEach(v => drawLine(g, l + 3, ys(v), r - 3, ys(v), '#ebebeb', 2.4, 'major-gridline-y'));
  riskTicks.forEach(v => drawLine(g, xs(v), t + 3, xs(v), b - 3, '#ebebeb', 2.4, 'major-gridline-x'));

  cfg.sparse.concat(cfg.dense, cfg.extra).forEach(p => {
    make(g, 'circle', {cx: xs(p[0]), cy: ys(p[1]), r: 3.2, fill: '#0a0a0a'}, 'sample-point');
  });

  const fitAt = x => cfg.fit[0] + (cfg.fit[1] - cfg.fit[0]) * x / 6.75;
  const upper = bandRisk.map((x, i) => xs(x) + ',' + ys(fitAt(x) + cfg.band[i]));
  const lower = bandRisk.map((x, i) => xs(x) + ',' + ys(fitAt(x) - cfg.band[i])).reverse();
  make(g, 'polygon', {points: upper.concat(lower).join(' '), fill: '#8c8c8c', 'fill-opacity': .38}, 'confidence-band');
  drawLine(g, xs(0), ys(cfg.fit[0]), xs(6.75), ys(cfg.fit[1]), '#2F5FAF', 5.4, 'trend-line');

  make(g, 'rect', {x: l, y: t, width: r - l, height: b - t, fill: 'none', stroke: '#333', 'stroke-width': 1.6}, 'plot-border');

  riskTicks.forEach(v => {
    drawLine(g, xs(v), b, xs(v), b + 3.5, '#333', 1.6, 'x-tick');
    drawText(g, xs(v) + 2, b + 22.5, 19, '#4d4d4d', 'middle', String(v), 'x-tick-label');
  });
  cfg.ticks.forEach(v => {
    drawLine(g, l - 3.5, ys(v), l, ys(v), '#333', 1.6, 'y-tick');
    drawText(g, l - 10, ys(v) + 4.5, 19, '#4d4d4d', 'end', v.toFixed(cfg.digits), 'y-tick-label');
  });

  drawText(g, cfg.labelX, cfg.labelY + 8, 23.5, '#111', 'middle', 'Risk score', 'x-axis-title');
  make(g, 'text', {transform: 'translate(' + (cfg.titleX + 8) + ',' + cfg.titleY + ') rotate(-90)', 'font-size': 23.5, 'text-anchor': 'middle', fill: '#111'}, 'y-axis-title', cfg.title);

  cfg.parts.forEach(part => {
    const extra = part[2] ? {'font-style': 'italic'} : {'xml:space': 'preserve'};
    drawText(g, cfg.annX + part[1], cfg.annY + 7, 20, '#111', 'start', part[0], 'correlation-annotation', extra);
  });
});

/* Panels C and D */
function drawBoxplot(g, cfg) {
  const ys = v => cfg.y0 + v * cfg.yu;
  const BLUE = '#21459B', RED = '#ED1C24';

  cfg.ticks.forEach(v => {
    drawLine(g, cfg.axisX - 6, ys(v), cfg.axisX, ys(v), '#000', 2.2, 'y-tick');
    drawText(g, cfg.axisX - 8, ys(v) + cfg.tickSize * .36, cfg.tickSize, '#111', 'end', v.toFixed(cfg.digits), 'y-tick-label');
  });

  function oneBox(center, stat, outs, color, label) {
    drawLine(g, center, ys(stat[0]), center, ys(stat[4]), color, 3.1, label + '-whisker');
    make(g, 'rect', {x: center - cfg.boxW / 2, y: ys(stat[3]), width: cfg.boxW, height: ys(stat[1]) - ys(stat[3]), fill: '#fff', stroke: color, 'stroke-width': 3.1}, label + '-box');
    drawLine(g, center - cfg.boxW / 2, ys(stat[2]), center + cfg.boxW / 2, ys(stat[2]), color, 5, label + '-median');
    outs.forEach(o => make(g, 'circle', {cx: center, cy: ys(o), r: 3.9, fill: color}, label + '-outlier'));
  }

  cfg.categories.forEach((name, i) => {
    const cx = cfg.x0 + i * cfg.dx;
    oneBox(cx - cfg.offset, cfg.low[i], cfg.lowOut[i], BLUE, 'low-risk');
    oneBox(cx + cfg.offset, cfg.high[i], cfg.highOut[i], RED, 'high-risk');
    if (cfg.stars[i]) drawText(g, cx, cfg.starY + 8, 14, '#111', 'middle', cfg.stars[i], 'significance-stars');
    drawLine(g, cx, cfg.axisY, cx, cfg.axisY + 6, '#000', 2.2, 'x-tick');
    make(g, 'text', {transform: 'translate(' + (cx + 3) + ',' + (cfg.axisY + 17) + ') rotate(-50)', 'font-size': cfg.catSize, 'text-anchor': 'end', fill: '#111'}, 'category-label', name);
  });

  drawLine(g, cfg.axisX, cfg.axisTop, cfg.axisX, cfg.axisY + 1.5, '#000', 3, 'y-axis-line');
  drawLine(g, cfg.axisX, cfg.axisY, cfg.axisRight, cfg.axisY, '#000', 3, 'x-axis-line');
  make(g, 'text', {transform: 'translate(' + (cfg.titleX + 8) + ',' + cfg.titleY + ') rotate(-90)', 'font-size': 23, 'text-anchor': 'middle', fill: '#111'}, 'y-axis-title', 'Score');

  const L = cfg.legend;
  drawText(g, L.risk, L.y + 7, 20, '#111', 'start', 'Risk', 'legend-title');
  [[L.blue, BLUE, 'low', L.low], [L.red, RED, 'high', L.highX]].forEach(item => {
    const mid = item[0] + 10.5;
    drawLine(g, mid, L.y - 12, mid, L.y + 12, item[1], 3, 'legend-key-whisker');
    make(g, 'rect', {x: item[0] + 1.5, y: L.y - 8, width: 18, height: 16, fill: '#fff', stroke: item[1], 'stroke-width': 3}, 'legend-key-box');
    drawLine(g, item[0] + 1.5, L.y, item[0] + 19.5, L.y, item[1], 3, 'legend-key-median');
    drawText(g, item[3], L.y + 7, 20, '#111', 'start', item[2], 'legend-entry');
  });
}

drawBoxplot(document.getElementById('panelC'), {
  categories: immuneCategories, stars: immuneStars, ticks: immuneTicks, digits: 2,
  low: immuneLowStats, high: immuneHighStats, lowOut: immuneLowOutliers, highOut: immuneHighOutliers,
  x0: 121.2, dx: 36.63, offset: 7.3, boxW: 12, y0: 2055.7, yu: -355.9,
  axisX: 99.5, axisY: 2073, axisTop: 1687.5, axisRight: 692, tickSize: 19.5, catSize: 20,
  starY: 1697, titleX: 33, titleY: 1862,
  legend: {y: 1652, risk: 318, blue: 360, low: 387, red: 418, highX: 444}
});
drawBoxplot(document.getElementById('panelD'), {
  categories: functionCategories, stars: functionStars, ticks: functionTicks, digits: 1,
  low: functionLowStats, high: functionHighStats, lowOut: functionLowOutliers, highOut: functionHighOutliers,
  x0: 877, dx: 45.49, offset: 9.3, boxW: 14, y0: 2196.3, yu: -444.7,
  axisX: 850, axisY: 2070.5, axisTop: 1737, axisRight: 1443, tickSize: 22, catSize: 20.5,
  starY: 1744, titleX: 785, titleY: 1893,
  legend: {y: 1703, risk: 1071, blue: 1113, low: 1140, red: 1172, highX: 1198}
});
</script>
</body>
</html>
